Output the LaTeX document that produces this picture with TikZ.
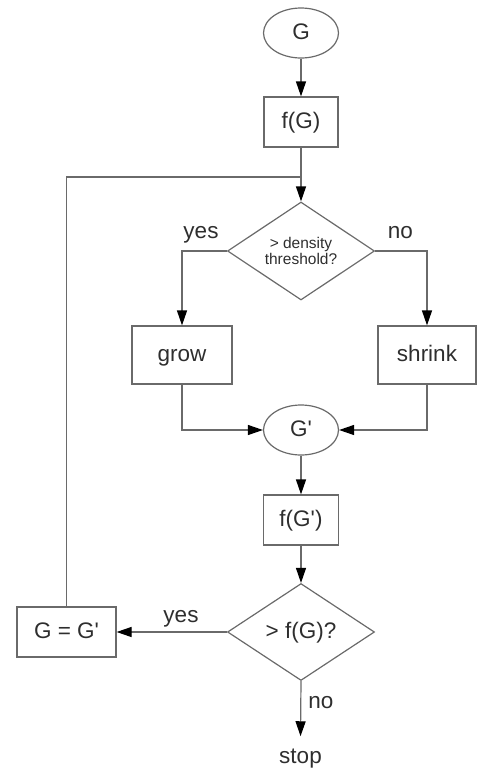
\documentclass[tikz,border=0pt]{standalone}
\usepackage{fontspec}
\setmainfont{Liberation Sans}
\usetikzlibrary{shapes.geometric,arrows.meta}
\definecolor{edgegray}{HTML}{6A6A6A}
\definecolor{txt}{HTML}{2E2E2E}
\newcommand{\prm}{\textquotesingle}
\begin{document}
\begin{tikzpicture}[x=1pt,y=-1pt,
  every node/.style={text=txt,font=\fontsize{22.5}{26}\selectfont},
  base/.style={draw=edgegray,line width=1.2pt,inner sep=0pt,text height=16pt,text depth=4pt},
  term/.style={base,ellipse,minimum width=75pt,minimum height=50pt},
  proc/.style={base,rectangle,minimum height=50pt},
  decide/.style={draw=edgegray,line width=1.2pt,inner sep=0pt,diamond,aspect=1.5,minimum width=147pt,minimum height=98pt},
  label/.style={anchor=base,inner sep=0pt},
  link/.style={draw=edgegray,line width=1.2pt},
  flow/.style={link,-{Triangle[length=15pt,width=10pt,color=black]}}
]
\useasboundingbox (0,0) rectangle (479,769);

% main column
\node[term] (g) at (301,33) {G};
\node[proc,minimum width=74pt] (fg) at (301,122) {f(G)};
\coordinate (join) at (301,177);
\node[decide,align=center,font=\fontsize{15.5}{16}\selectfont] (dens) at (301,251) {> density\\threshold?};
\node[proc,minimum width=100pt,minimum height=58pt] (grow) at (182,355) {grow};
\node[proc,minimum width=98pt,minimum height=58pt] (shrink) at (427,355) {shrink};
\node[term] (gp) at (301,430) {G\prm};
\node[proc,minimum width=75pt] (fgp) at (301,520) {f(G\prm)};
\node[decide,minimum height=97pt,text height=16pt,text depth=4pt] (cmp) at (301,632) {> f(G)?};
\node[proc,minimum width=99pt] (swap) at (66.5,632) {G = G\prm};
\node[anchor=base,inner xsep=0pt,inner ysep=12pt] (stop) at (300.5,763) {stop};

% edge labels
\node[label] (yes1) at (201,238) {yes};
\node[label] (no1) at (400.5,238) {no};
\node[label] (yes2) at (181,622) {yes};
\node[label] (no2) at (321,708) {no};

% connectors
\draw[flow] (g) -- (fg);
\draw[flow] (fg) -- (dens.north);
\draw[flow] (dens.west) -| (grow.north);
\draw[flow] (dens.east) -| (shrink.north);
\draw[flow] (grow.south) |- (gp.west);
\draw[flow] (shrink.south) |- (gp.east);
\draw[flow] (gp) -- (fgp);
\draw[flow] (fgp) -- (cmp.north);
\draw[flow] (cmp.west) -- (swap.east);
\draw[flow] (cmp.south) -- (stop.north);
\draw[link] (swap.north) |- (join);
\end{tikzpicture}
\end{document}
